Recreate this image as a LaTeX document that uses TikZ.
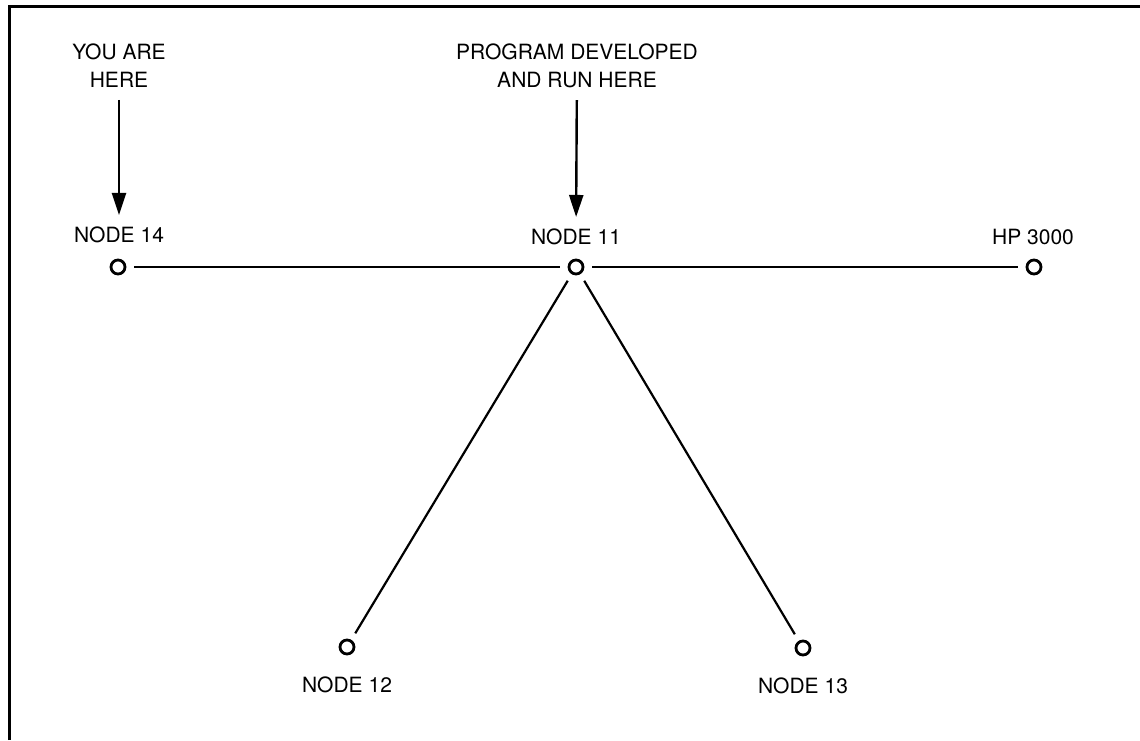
\documentclass[tikz,border=0pt]{standalone}
\usepackage{fontspec}
\setmainfont{TeX Gyre Heros}
\usetikzlibrary{arrows.meta}
\begin{document}
\begin{tikzpicture}[x=1pt,y=-1pt,
  station/.style={circle,draw,line width=2.8pt,minimum size=14pt,inner sep=0pt,outer sep=9pt},
  caption/.style={font=\fontsize{21}{28}\selectfont,align=center,inner sep=0pt,outer sep=12pt},
  link/.style={line width=2.2pt},
  pointer/.style={line width=2.4pt,-{Triangle[width=14pt,length=22pt]}}]
  \useasboundingbox (0,0) rectangle (1140,740);
  % frame
  \draw[line width=3pt] (9,740) -- (9,6) -- (1140,6);

  % stations
  \node[station] (n14) at (118,267) {};
  \node[station] (n11) at (576,267) {};
  \node[station] (hp)  at (1034,267) {};
  \node[station] (n12) at (347,647) {};
  \node[station] (n13) at (803,648) {};

  % station names
  \node[caption] (l14) at (119,235) {NODE 14};
  \node[caption] (l11) at (576,237) {NODE 11};
  \node[caption] (lhp) at (1033,237) {HP 3000};
  \node[caption] (l12) at (347,685) {NODE 12};
  \node[caption] (l13) at (803,686) {NODE 13};

  % notes
  \node[caption] (you)  at (119,66) {YOU ARE\\HERE};
  \node[caption] (prog) at (577,66) {PROGRAM DEVELOPED\\AND RUN HERE};

  % network links
  \draw[link] (n14) -- (n11);
  \draw[link] (n11) -- (hp);
  \draw[link] (n11) -- (n12);
  \draw[link] (n11) -- (n13);

  % pointers
  \draw[pointer] (you) -- (l14);
  \draw[pointer] (prog) -- (l11);
\end{tikzpicture}
\end{document}
